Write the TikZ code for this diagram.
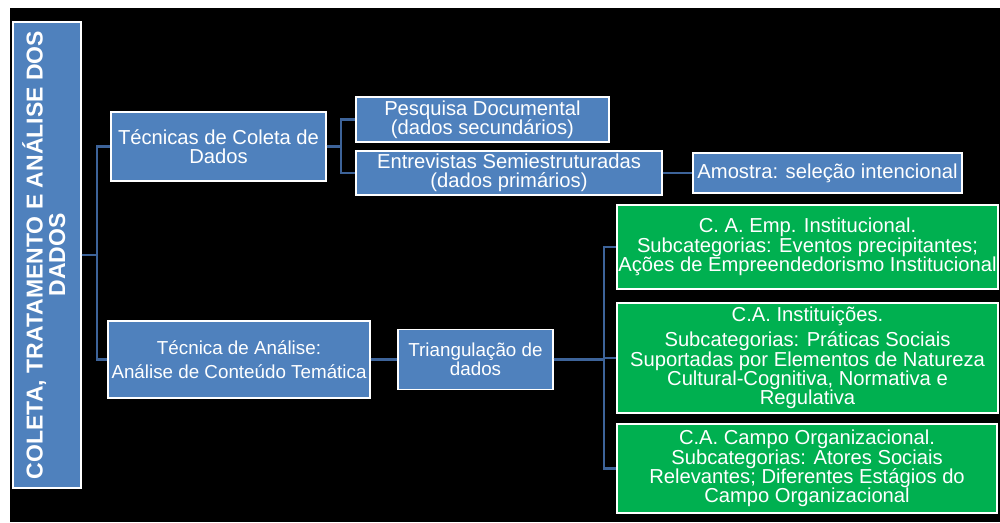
\documentclass[tikz,border=0pt]{standalone}
\usepackage{fontspec}
\setmainfont{Liberation Sans}
\definecolor{boxblue}{HTML}{4F81BD}
\definecolor{boxgreen}{HTML}{00B050}
\definecolor{linkblue}{HTML}{3D6399}
\begin{document}
\begin{tikzpicture}[x=1pt,y=-1pt,
  box/.style={draw=white, line width=1.3pt, fill=boxblue, text=white,
    align=center, inner sep=1pt, font=\fontsize{20.2}{19.3}\selectfont},
  smallbox/.style={box, font=\fontsize{18.8}{18.5}\selectfont},
  gbox/.style={box, fill=boxgreen},
  link/.style={draw=linkblue, line width=2.2pt}]
\useasboundingbox (0,0) rectangle (1000,522);
\fill[white] (0,0) rectangle (1000,522);
\fill[black] (10,8) rectangle (1000,522);

% root box with vertical title
\node[box, minimum width=68pt, minimum height=466pt] (root) at (47,255)
  {\rotatebox{90}{\fontsize{23}{22}\selectfont\bfseries
   \begin{tabular}{@{}c@{}}COLETA, TRATAMENTO E ANÁLISE DOS\\DADOS\end{tabular}}};

% data collection branch
\node[box, minimum width=215pt, minimum height=69pt] (coleta) at (218.5,146.5)
  {Técnicas de Coleta de\\Dados};
\node[box, minimum width=253pt, minimum height=45pt] (pesquisa) at (482.5,119.5)
  {Pesquisa Documental\\(dados secundários)};
\node[box, minimum width=306pt, minimum height=44pt] (entrevistas) at (509,173)
  {Entrevistas Semiestruturadas\\(dados primários)};
\node[box, minimum width=269pt, minimum height=40pt] (amostra) at (827.5,173)
  {Amostra: seleção intencional};

% analysis branch
\node[smallbox, minimum width=262pt, minimum height=77pt] (analise) at (239,359.5)
  {Técnica de Análise:\\[5pt]Análise de Conteúdo Temática};
\node[smallbox, minimum width=155pt, minimum height=60pt] (triang) at (475.5,359.5)
  {Triangulação de\\dados};

% analytical categories
\node[gbox, minimum width=381pt, minimum height=84pt] (ca1) at (807.5,247)
  {C. A. Emp. Institucional.\\Subcategorias: Eventos precipitantes;\\Ações de Empreendedorismo Institucional};
\node[gbox, minimum width=381pt, minimum height=110pt] (ca2) at (807.5,358)
  {C.A. Instituições.\\[6pt]Subcategorias: Práticas Sociais\\Suportadas por Elementos de Natureza\\Cultural-Cognitiva, Normativa e\\Regulativa};
\node[gbox, minimum width=380pt, minimum height=89pt] (ca3) at (807,468.5)
  {C.A. Campo Organizacional.\\Subcategorias: Atores Sociais\\Relevantes; Diferentes Estágios do\\Campo Organizacional};

% connectors
\draw[link] (root.east) -- ++(15,0) |- (coleta.west);
\draw[link] (root.east) -- ++(15,0) |- (analise.west);
\draw[link] (coleta.east) -- ++(14,0) |- (pesquisa.west);
\draw[link] (coleta.east) -- ++(14,0) |- (entrevistas.west);
\draw[link] (entrevistas.east) -- (amostra.west);
\draw[link] (analise.east) -- (triang.west);
\draw[link] (triang.east) -- ++(50,0) |- (ca1.west);
\draw[link] (triang.east) -- ++(50,0) |- (ca2.west);
\draw[link] (triang.east) -- ++(50,0) |- (ca3.west);
\end{tikzpicture}
\end{document}
